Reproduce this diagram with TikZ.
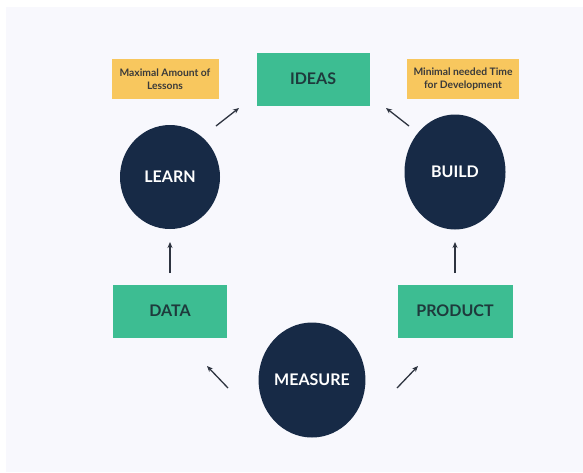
\documentclass[tikz,border=0pt]{standalone}
\usepackage{fontspec}
\setmainfont{Lato}
\usetikzlibrary{arrows.meta,shapes.geometric}
\definecolor{bgc}{HTML}{F8F8FD}
\definecolor{navy}{HTML}{172A46}
\definecolor{mint}{HTML}{3DBD92}
\definecolor{sand}{HTML}{F8C75E}
\definecolor{inkc}{HTML}{1E3A3C}
\definecolor{notec}{HTML}{3A3A3A}
\definecolor{arrowc}{HTML}{2E3440}
\tikzset{
  greenbox/.style={fill=mint, draw=none, minimum width=114pt, minimum height=53pt, inner sep=0pt,
    font=\fontsize{16}{18}\selectfont\bfseries, text=inkc},
  notebox/.style={fill=sand, draw=none, minimum width=107pt, minimum height=40pt, inner sep=0pt,
    align=center, font=\fontsize{10.3}{13}\selectfont\bfseries, text=notec},
  bubble/.style={ellipse, fill=navy, draw=none, inner sep=0pt,
    font=\fontsize{16}{18}\selectfont\bfseries, text=white},
  flow/.style={draw=arrowc, line width=1.3pt, -{Stealth[length=6pt,width=5pt]}}
}
\begin{document}
\begin{tikzpicture}[x=1pt,y=-1pt]
\fill[white] (0,0) rectangle (583,472);
\fill[bgc] (6,7) rectangle (583,472);
\useasboundingbox (0,0) rectangle (583,472);
% notes
\node[notebox] (maxl) at (165,79) {Maximal Amount of\\Lessons};
\node[notebox, minimum width=112pt] (minl) at (463,79) {Minimal needed Time\\for Development};
% boxes
\node[greenbox, minimum width=113pt] (ideas) at (313,79) {IDEAS};
\node[greenbox] (data) at (170,311) {DATA};
\node[greenbox, minimum width=115pt] (product) at (455,311) {PRODUCT};
% bubbles
\node[bubble, minimum width=100pt, minimum height=104pt] (learn) at (170,177) {LEARN};
\node[bubble, minimum width=101pt, minimum height=115pt] (build) at (455,172) {BUILD};
\node[bubble, minimum width=101pt, minimum height=115pt] (measure) at (312,380) {MEASURE};
% arrow end points
\coordinate (a1s) at (216,126); \coordinate (a1e) at (239,108);
\coordinate (a2s) at (409,126); \coordinate (a2e) at (386,108);
\coordinate (a3s) at (170,273); \coordinate (a3e) at (170,242);
\coordinate (a4s) at (455,273); \coordinate (a4e) at (455,242);
\coordinate (a5s) at (228,388); \coordinate (a5e) at (207,366);
\coordinate (a6s) at (397,388); \coordinate (a6e) at (418,366);
\draw[flow] (a1s) -- (a1e);
\draw[flow] (a2s) -- (a2e);
\draw[flow] (a3s) -- (a3e);
\draw[flow] (a4s) -- (a4e);
\draw[flow] (a5s) -- (a5e);
\draw[flow] (a6s) -- (a6e);
\end{tikzpicture}
\end{document}
